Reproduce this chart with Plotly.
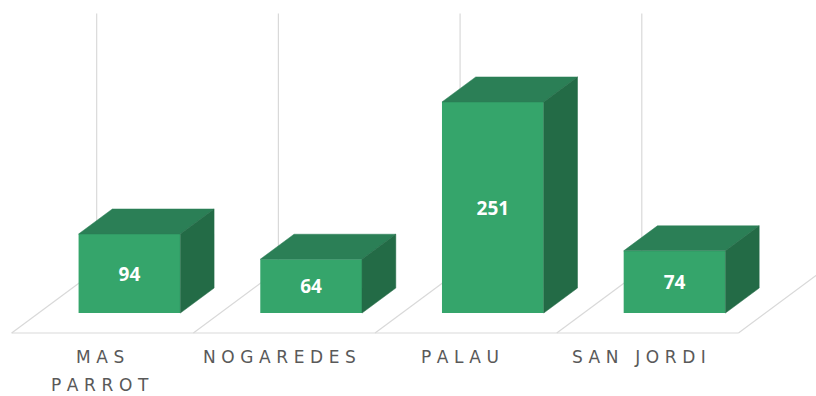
import plotly.graph_objects as go

# --- data -------------------------------------------------------------
categories = ["MAS PARROT", "NOGAREDES", "PALAU", "SAN JORDI"]
tick_lines = [["MAS", "PARROT"], ["NOGAREDES"], ["PALAU"], ["SAN JORDI"]]
values = [94, 64, 251, 74]

# --- oblique 3D projection parameters ----------------------------------
DX = 0.468        # x shift (category units) for full floor depth
DY = 74.9         # y shift (value units) for full floor depth
D_FRONT = 0.317   # depth of the bars' front faces
D_BACK = 0.714    # depth of the bars' back faces
BAR_W = 0.56      # bar width in category units
WALL_TOP = 305    # height of the back-wall gridlines

FRONT = "#35a56b"
TOP = "#2b7f56"
SIDE = "#236b46"
GRID = "#d9d9d9"
LABEL = "#595959"


def proj(x, d, v):
    """Project (category x, depth d, value v) onto the 2D axes."""
    return x + d * DX, v + d * DY


fig = go.Figure()
n = len(categories)


def grid_segment(a, b):
    p, q = proj(*a), proj(*b)
    fig.add_shape(type="line", xref="x", yref="y",
                  x0=p[0], y0=p[1], x1=q[0], y1=q[1],
                  line=dict(color=GRID, width=1.2), layer="below")


# floor edges and back-wall gridlines (kept beneath the columns)
bounds = [i - 0.5 for i in range(n + 1)]
grid_segment((bounds[0], 0, 0), (bounds[-1], 0, 0))
for bx in bounds:
    grid_segment((bx, 0, 0), (bx, 1, 0))
    grid_segment((bx, 1, 0), (bx, 1, WALL_TOP))

# front faces of the columns
fig.add_trace(go.Bar(
    x=[i + D_FRONT * DX for i in range(n)],
    y=values,
    base=D_FRONT * DY,
    width=BAR_W,
    marker=dict(color=FRONT, line=dict(width=0)),
    text=[str(v) for v in values],
    textposition="inside",
    insidetextanchor="middle",
    textangle=0,
    textfont=dict(family="Open Sans", size=19, color="white", weight="bold"),
    showlegend=False,
    name="",
))

# top and side faces
for i, v in enumerate(values):
    xl, xr = i - BAR_W / 2, i + BAR_W / 2
    top = [proj(xl, D_FRONT, v), proj(xr, D_FRONT, v),
           proj(xr, D_BACK, v), proj(xl, D_BACK, v), proj(xl, D_FRONT, v)]
    side = [proj(xr, D_FRONT, 0), proj(xr, D_BACK, 0),
            proj(xr, D_BACK, v), proj(xr, D_FRONT, v), proj(xr, D_FRONT, 0)]
    for pts, col in ((top, TOP), (side, SIDE)):
        fig.add_trace(go.Scatter(
            x=[p[0] for p in pts], y=[p[1] for p in pts],
            mode="lines", fill="toself", fillcolor=col,
            line=dict(color=col, width=0.5),
            hoverinfo="skip", showlegend=False))

# category labels, letter-spaced
SP = "\u2004"


def spaced(word):
    return (SP * 3).join(SP.join(w) for w in word.split(" "))


for i, lines in enumerate(tick_lines):
    for k, ln in enumerate(lines):
        fig.add_annotation(
            x=i - 0.015 - 0.01 * i, y=-28.5 - k * 33.3,
            xref="x", yref="y", text=spaced(ln), showarrow=False,
            xanchor="center", yanchor="middle",
            font=dict(family="DejaVu Sans", size=17, color=LABEL))

fig.update_layout(
    width=816, height=396,
    margin=dict(l=0, r=0, t=0, b=0),
    paper_bgcolor="white", plot_bgcolor="white",
    barmode="overlay",
    xaxis=dict(range=[-0.5641, 3.9268], visible=False, fixedrange=True),
    yaxis=dict(range=[-74.9, 396.0], visible=False, fixedrange=True),
)

fig.write_html("out.html")
